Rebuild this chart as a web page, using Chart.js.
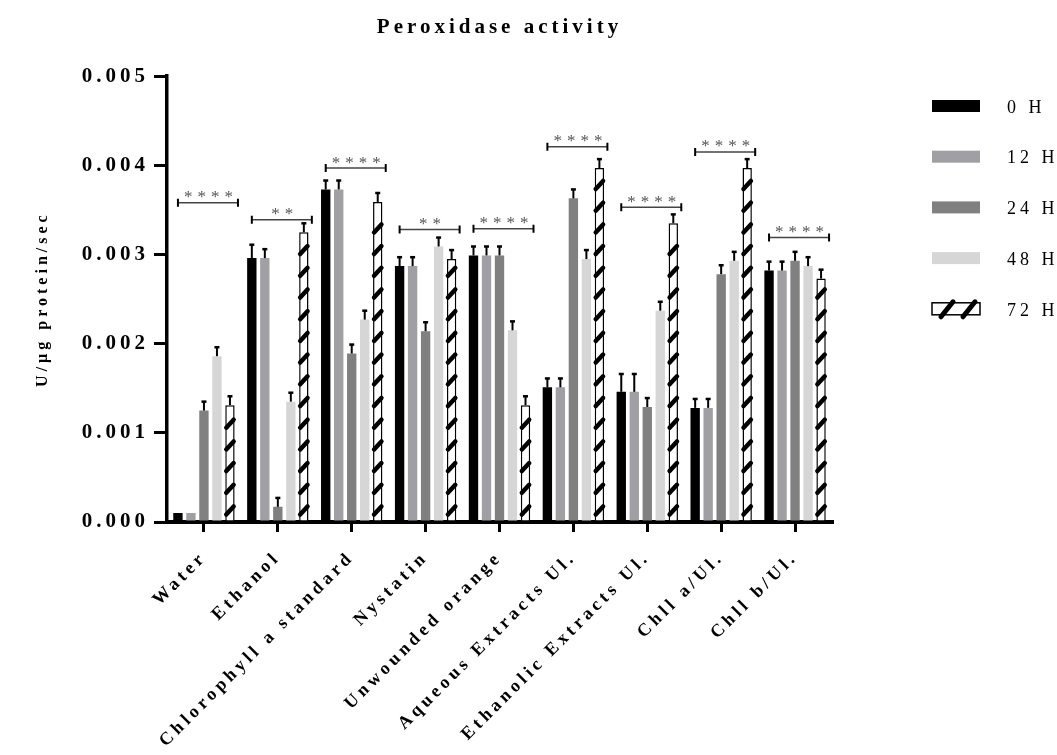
<!DOCTYPE html>
<html>
<head>
<meta charset="utf-8">
<script src="https://cdn.jsdelivr.net/npm/chart.js@4"></script>
<style>
  html, body { margin: 0; padding: 0; background: #fff; }
  #wrap { width: 1057px; height: 755px; }
</style>
</head>
<body>
<div id="wrap"><canvas id="peroxChart"></canvas></div>
<script>
const categories = ['Water', 'Ethanol', 'Chlorophyll a standard', 'Nystatin', 'Unwounded orange',
  'Aqueous Extracts Ul.', 'Ethanolic Extracts Ul.', 'Chll a/Ul.', 'Chll b/Ul.'];
const hours = ['0 H', '12 H', '24 H', '48 H', '72 H'];

const h0  = [0.0001, 0.00296, 0.00373, 0.00287, 0.00299, 0.00151, 0.00146, 0.00128, 0.00282];
const h12 = [0.0001, 0.00296, 0.00373, 0.00287, 0.00299, 0.00151, 0.00146, 0.00128, 0.00282];
const h24 = [0.00125, 0.00017, 0.00189, 0.00214, 0.00299, 0.00363, 0.00129, 0.00278, 0.00293];
const h48 = [0.00186, 0.00135, 0.00227, 0.00309, 0.00215, 0.00295, 0.00237, 0.00293, 0.00287];
const h72 = [0.00131, 0.00325, 0.00359, 0.00295, 0.00131, 0.00397, 0.00335, 0.00397, 0.00273];

const err0  = [0, 0.00015, 0.0001, 0.0001, 0.0001, 0.0001, 0.0002, 0.0001, 0.0001];
const err12 = [0, 0.0001, 0.0001, 0.0001, 0.0001, 0.0001, 0.0002, 0.0001, 0.0001];
const err24 = [0.0001, 0.0001, 0.0001, 0.0001, 0.0001, 0.0001, 0.0001, 0.0001, 0.0001];
const err48 = [0.0001, 0.0001, 0.0001, 0.0001, 0.0001, 0.0001, 0.0001, 0.0001, 0.0001];
const err72 = [0.0001, 0.0001, 0.0001, 0.0001, 0.0001, 0.0001, 0.0001, 0.0001, 0.0001];

// significance brackets (value level of the bracket line) and stars
const sigLevels = [0.00358, 0.00339, 0.00397, 0.00328, 0.00329, 0.00421, 0.00353, 0.00415, 0.00319];
const sigLabels = ['****', '**', '****', '**', '****', '****', '****', '****', '****'];

const yTicks = [0, 0.001, 0.002, 0.003, 0.004, 0.005];

const colors = ['#000000', '#a0a0a4', '#808080', '#d6d6d6', '#ffffff'];
const allErrors = [err0, err12, err24, err48, err72];
const serif = '"Liberation Serif", "Times New Roman", serif';

function spacing(chart) {
  chart.ctx.letterSpacing = '4px';
}

const spacingPlugin = {
  id: 'spacing',
  beforeUpdate: spacing,
  beforeLayout: spacing,
  beforeDraw: spacing
};

const hatchPlugin = {
  id: 'hatch',
  afterDatasetsDraw(chart) {
    const ctx = chart.ctx;
    const meta = chart.getDatasetMeta(4);
    ctx.save();
    ctx.strokeStyle = '#000';
    ctx.lineWidth = 4.5;
    ctx.lineCap = 'round';
    meta.data.forEach(el => {
      const left = el.x - el.width / 2, right = el.x + el.width / 2;
      for (let yc = el.base - 10; yc > el.y + 8; yc -= 21.7) {
        ctx.beginPath();
        ctx.moveTo(left + 1, yc + 4);
        ctx.lineTo(right - 1, yc - 4);
        ctx.stroke();
      }
    });
    ctx.restore();
  }
};

const errorPlugin = {
  id: 'errbars',
  afterDatasetsDraw(chart) {
    const ctx = chart.ctx;
    const y = chart.scales.y;
    ctx.save();
    ctx.strokeStyle = '#000';
    chart.data.datasets.forEach((ds, di) => {
      const meta = chart.getDatasetMeta(di);
      meta.data.forEach((el, i) => {
        const e = allErrors[di][i];
        if (!e) return;
        const top = y.getPixelForValue(ds.data[i] + e);
        ctx.lineWidth = 2;
        ctx.beginPath();
        ctx.moveTo(el.x, el.y);
        ctx.lineTo(el.x, top);
        ctx.stroke();
        ctx.lineWidth = 2.5;
        ctx.beginPath();
        ctx.moveTo(el.x - 2.5, top);
        ctx.lineTo(el.x + 2.5, top);
        ctx.stroke();
      });
    });
    ctx.restore();
  }
};

const bracketPlugin = {
  id: 'brackets',
  afterDatasetsDraw(chart) {
    const ctx = chart.ctx;
    const y = chart.scales.y;
    const first = chart.getDatasetMeta(0).data;
    const last = chart.getDatasetMeta(4).data;
    ctx.save();
    sigLevels.forEach((lvl, i) => {
      const yp = y.getPixelForValue(lvl);
      const x1 = first[i].x, x2 = last[i].x + 8;
      ctx.strokeStyle = '#444';
      ctx.lineWidth = 1.5;
      ctx.beginPath();
      ctx.moveTo(x1, yp);
      ctx.lineTo(x2, yp);
      ctx.stroke();
      ctx.strokeStyle = '#000';
      ctx.lineWidth = 2;
      ctx.beginPath();
      ctx.moveTo(x1, yp - 4); ctx.lineTo(x1, yp + 4);
      ctx.moveTo(x2, yp - 4); ctx.lineTo(x2, yp + 4);
      ctx.stroke();
      ctx.fillStyle = '#555';
      ctx.font = '17px ' + serif;
      ctx.letterSpacing = '5px';
      ctx.textAlign = 'center';
      ctx.textBaseline = 'middle';
      ctx.fillText(sigLabels[i], (x1 + x2) / 2 + 3, yp - 5);
    });
    ctx.restore();
  }
};

const legendPlugin = {
  id: 'sideLegend',
  afterDraw(chart) {
    const ctx = chart.ctx;
    const x0 = chart.chartArea.right + 100;
    ctx.save();
    hours.forEach((h, i) => {
      const cy = 106 + i * 50.7;
      if (i < 4) {
        ctx.fillStyle = colors[i];
        ctx.fillRect(x0, cy - 6, 48, 12);
      } else {
        ctx.fillStyle = '#fff';
        ctx.fillRect(x0, cy - 6, 48, 12);
        ctx.strokeStyle = '#000';
        ctx.lineWidth = 1.5;
        ctx.strokeRect(x0, cy - 6, 48, 12);
        ctx.lineWidth = 5;
        ctx.lineCap = 'round';
        ctx.beginPath();
        ctx.moveTo(x0 + 9, cy + 8); ctx.lineTo(x0 + 21, cy - 7);
        ctx.moveTo(x0 + 31, cy + 8); ctx.lineTo(x0 + 43, cy - 7);
        ctx.stroke();
      }
      ctx.fillStyle = '#000';
      ctx.font = '18px ' + serif;
      ctx.letterSpacing = '4px';
      ctx.textAlign = 'left';
      ctx.textBaseline = 'middle';
      ctx.fillText(h, x0 + 75, cy + 2);
    });
    ctx.restore();
  }
};

const series = [h0, h12, h24, h48, h72];

new Chart(document.getElementById('peroxChart'), {
  type: 'bar',
  data: {
    labels: categories,
    datasets: series.map((d, i) => ({
      label: hours[i],
      data: d,
      backgroundColor: colors[i],
      borderColor: i === 4 ? '#000' : colors[i],
      borderWidth: i === 4 ? 1.5 : 0,
      categoryPercentage: 0.88,
      barPercentage: 0.72
    }))
  },
  options: {
    responsive: true,
    maintainAspectRatio: false,
    animation: false,
    layout: { padding: { left: 0, right: 225, top: 0, bottom: 0 } },
    plugins: {
      legend: { display: false },
      tooltip: { enabled: false },
      title: {
        display: true,
        text: 'Peroxidase activity',
        fullSize: false,
        color: '#000',
        font: { family: serif, size: 21, weight: 'bold' },
        padding: { top: 15, bottom: 36 }
      }
    },
    scales: {
      x: {
        offset: true,
        grid: { display: true, drawOnChartArea: false, offset: false, drawTicks: true,
          tickLength: 10, lineWidth: 3, color: '#000' },
        border: { display: true, color: '#000', width: 4 },
        ticks: {
          color: '#000', maxRotation: 45, minRotation: 45, autoSkip: false, padding: 15,
          font: { family: serif, size: 18, weight: 'bold' }
        },
        afterFit(scale) { scale.height = 233; }
      },
      y: {
        min: 0,
        max: 0.005,
        afterBuildTicks(scale) { scale.ticks = yTicks.map(v => ({ value: v })); },
        grid: { display: true, drawOnChartArea: false, drawTicks: true,
          tickLength: 13, lineWidth: 3, color: '#000' },
        border: { display: true, color: '#000', width: 3.5 },
        ticks: {
          color: '#000', padding: 5,
          font: { family: serif, size: 21, weight: 'bold' },
          callback: v => v.toFixed(3)
        },
        title: {
          display: true,
          text: 'U/µg protein/sec',
          color: '#000',
          font: { family: serif, size: 16, weight: 'bold' },
          padding: { top: 33, bottom: 0 }
        },
        afterFit(scale) { scale.width = 167; }
      }
    }
  },
  plugins: [spacingPlugin, hatchPlugin, errorPlugin, bracketPlugin, legendPlugin]
});
</script>
</body>
</html>
